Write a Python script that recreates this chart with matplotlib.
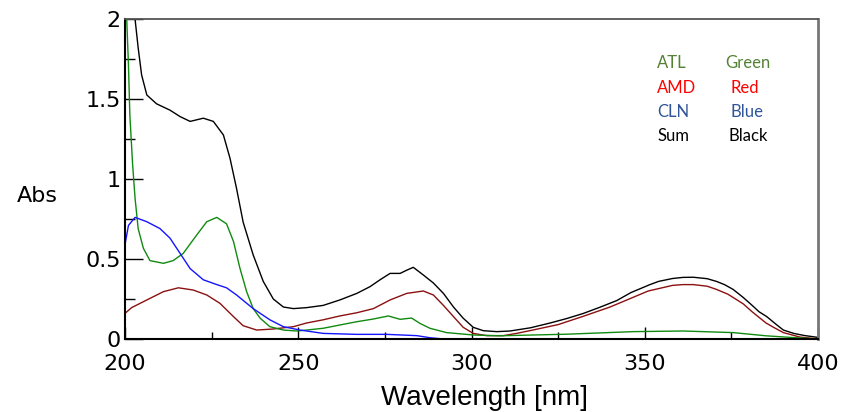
import matplotlib
matplotlib.use('Agg')
import matplotlib.pyplot as plt
from matplotlib.ticker import MultipleLocator, FormatStrFormatter

#---    Data (wavelength in nm, absorbance)
wl_sum = [201.8, 202.9, 203.8, 204.8, 206.3, 209.1, 213.0, 215.9, 218.8, 222.6, 225.5, 228.4, 230.3, 232.2,
          234.1, 237.0, 239.9, 242.8, 245.7, 248.6, 252.4, 257.2, 262.0, 266.9, 270.7, 273.6, 276.5, 279.4,
          281.3, 283.2, 286.1, 289.0, 291.9, 294.8, 297.6, 300.5, 303.4, 307.3, 311.1, 317.0, 322.7, 327.5,
          332.3, 337.0, 341.9, 346.0, 351.5, 354.0, 358.0, 361.0, 364.0, 368.0, 370.7, 373.0, 375.5, 378.4,
          381.0, 383.0, 385.2, 388.0, 390.0, 393.0, 396.0, 400.0]
abs_sum = [2.3, 2.0, 1.82, 1.65, 1.525, 1.47, 1.43, 1.39, 1.36, 1.38, 1.36, 1.275, 1.13, 0.94,
           0.73, 0.525, 0.36, 0.25, 0.20, 0.19, 0.196, 0.21, 0.244, 0.285, 0.327, 0.37, 0.41, 0.41,
           0.43, 0.448, 0.40, 0.35, 0.285, 0.20, 0.13, 0.073, 0.052, 0.046, 0.05, 0.07, 0.10, 0.128,
           0.16, 0.198, 0.24, 0.29, 0.34, 0.36, 0.378, 0.385, 0.386, 0.377, 0.36, 0.34, 0.31, 0.26,
           0.21, 0.17, 0.14, 0.09, 0.056, 0.035, 0.022, 0.01]

wl_amd = [200.0, 201.9, 206.3, 211.1, 215.4, 219.7, 223.6, 227.4, 231.3, 234.1, 238.0, 242.8, 248.6, 252.4,
          257.2, 262.0, 266.9, 271.7, 276.5, 281.3, 286.1, 289.0, 291.9, 294.8, 297.6, 300.5, 304.4, 309.2,
          313.0, 317.7, 325.0, 332.0, 340.0, 346.6, 351.0, 355.0, 358.0, 361.0, 364.0, 368.0, 370.7, 374.0,
          378.4, 381.0, 383.0, 385.0, 387.0, 390.0, 394.8, 400.0]
abs_amd = [0.16, 0.196, 0.244, 0.296, 0.32, 0.306, 0.275, 0.223, 0.14, 0.083, 0.056, 0.0625, 0.077, 0.10,
           0.12, 0.144, 0.164, 0.19, 0.244, 0.285, 0.30, 0.275, 0.21, 0.14, 0.073, 0.035, 0.021, 0.021,
           0.035, 0.056, 0.09, 0.14, 0.20, 0.26, 0.30, 0.32, 0.335, 0.34, 0.34, 0.33, 0.31, 0.28,
           0.22, 0.17, 0.135, 0.10, 0.075, 0.04, 0.012, 0.0]

wl_atl = [200.2, 200.5, 201.0, 201.4, 202.2, 202.9, 203.8, 205.3, 207.2, 211.1, 213.9, 216.8, 220.7, 223.6,
          226.5, 229.3, 231.3, 233.2, 235.1, 237.0, 239.0, 241.8, 245.7, 249.6, 252.4, 257.2, 262.0, 266.9,
          271.7, 276.0, 279.4, 282.7, 285.1, 288.0, 292.8, 300.5, 308.0, 327.5, 346.6, 361.0, 375.5, 385.0,
          392.0, 400.0]
abs_atl = [2.3, 2.0, 1.71, 1.40, 1.09, 0.88, 0.69, 0.567, 0.49, 0.473, 0.49, 0.535, 0.65, 0.733,
           0.76, 0.72, 0.61, 0.44, 0.296, 0.19, 0.13, 0.077, 0.056, 0.05, 0.056, 0.067, 0.0875, 0.108,
           0.125, 0.144, 0.123, 0.131, 0.098, 0.067, 0.04, 0.025, 0.02, 0.03, 0.046, 0.05, 0.04, 0.02,
           0.01, 0.0]

wl_cln = [200.0, 201.0, 202.9, 206.3, 210.1, 213.0, 215.9, 218.8, 222.6, 226.5, 229.3, 232.2, 237.0, 241.8,
          245.7, 250.5, 257.2, 266.9, 275.5, 284.2, 288.0, 290.9, 300.0, 350.0, 400.0]
abs_cln = [0.59, 0.71, 0.76, 0.733, 0.69, 0.63, 0.535, 0.44, 0.37, 0.34, 0.32, 0.275, 0.19, 0.12,
           0.077, 0.056, 0.035, 0.029, 0.029, 0.021, 0.008, 0.002, 0.0, 0.0, 0.0]

legend_names = ['ATL', 'AMD', 'CLN', 'Sum']
legend_colours = ['Green', 'Red', 'Blue', 'Black']
legend_text_col = ['#548235', '#ff0000', '#2f5597', 'black']

fs_ticks = 16
fs_label = 20

W, H = 843, 412
fig = plt.figure(figsize=(W / 100, H / 100), dpi=100)
ax = fig.add_axes([125 / W, 1 - 339 / H, (818 - 125) / W, (339 - 19) / H])

ax.plot(wl_sum, abs_sum, color='black', linewidth=1.0)
ax.plot(wl_amd, abs_amd, color='#8b1010', linewidth=1.0)
ax.plot(wl_atl, abs_atl, color='#118a11', linewidth=1.0)
ax.plot(wl_cln, abs_cln, color='#1414ff', linewidth=1.0)

ax.set_xlim(200, 400)
ax.set_ylim(0, 2)
ax.xaxis.set_major_locator(MultipleLocator(50))
ax.xaxis.set_minor_locator(MultipleLocator(25))
ax.yaxis.set_major_locator(MultipleLocator(0.5))
ax.yaxis.set_minor_locator(MultipleLocator(0.25))
ax.yaxis.set_major_formatter(FormatStrFormatter('%g'))

ax.tick_params(axis='x', which='major', direction='in', length=9, width=1, pad=11,
               labelsize=fs_ticks, top=False)
ax.tick_params(axis='x', which='minor', direction='in', length=5, width=1, top=False)
ax.tick_params(axis='y', which='major', direction='in', length=13, width=1, pad=3,
               labelsize=fs_ticks, right=False)
ax.tick_params(axis='y', which='minor', direction='in', length=7, width=1, right=False)
for lab in ax.get_xticklabels() + ax.get_yticklabels():
    lab.set_family('DejaVu Sans')

ax.spines['left'].set_linewidth(1.5)
ax.spines['bottom'].set_linewidth(1.5)
ax.spines['top'].set_color('#555555')
ax.spines['top'].set_linewidth(1.3)
ax.spines['right'].set_color('#777777')
ax.spines['right'].set_linewidth(2)

fig.text(37 / W, 1 - 196 / H, 'Abs', ha='center', va='center', fontsize=fs_ticks,
         family='DejaVu Sans')
fig.text(484 / W, 1 - 405 / H, 'Wavelength [nm]', ha='center', va='baseline', fontsize=fs_label,
         family='Liberation Sans')

#---    Colour key written as plain text
rows_y = [63, 88, 112, 136]
col2_x = [725, 731, 731, 729]
for name, col, c, yy, x2 in zip(legend_names, legend_colours, legend_text_col, rows_y, col2_x):
    fig.text(657 / W, 1 - yy / H, name, color=c, fontsize=12, family='Lato', va='center')
    fig.text(x2 / W, 1 - yy / H, col, color=c, fontsize=12, family='Lato', va='center')

plt.savefig('out.png', dpi=100)
